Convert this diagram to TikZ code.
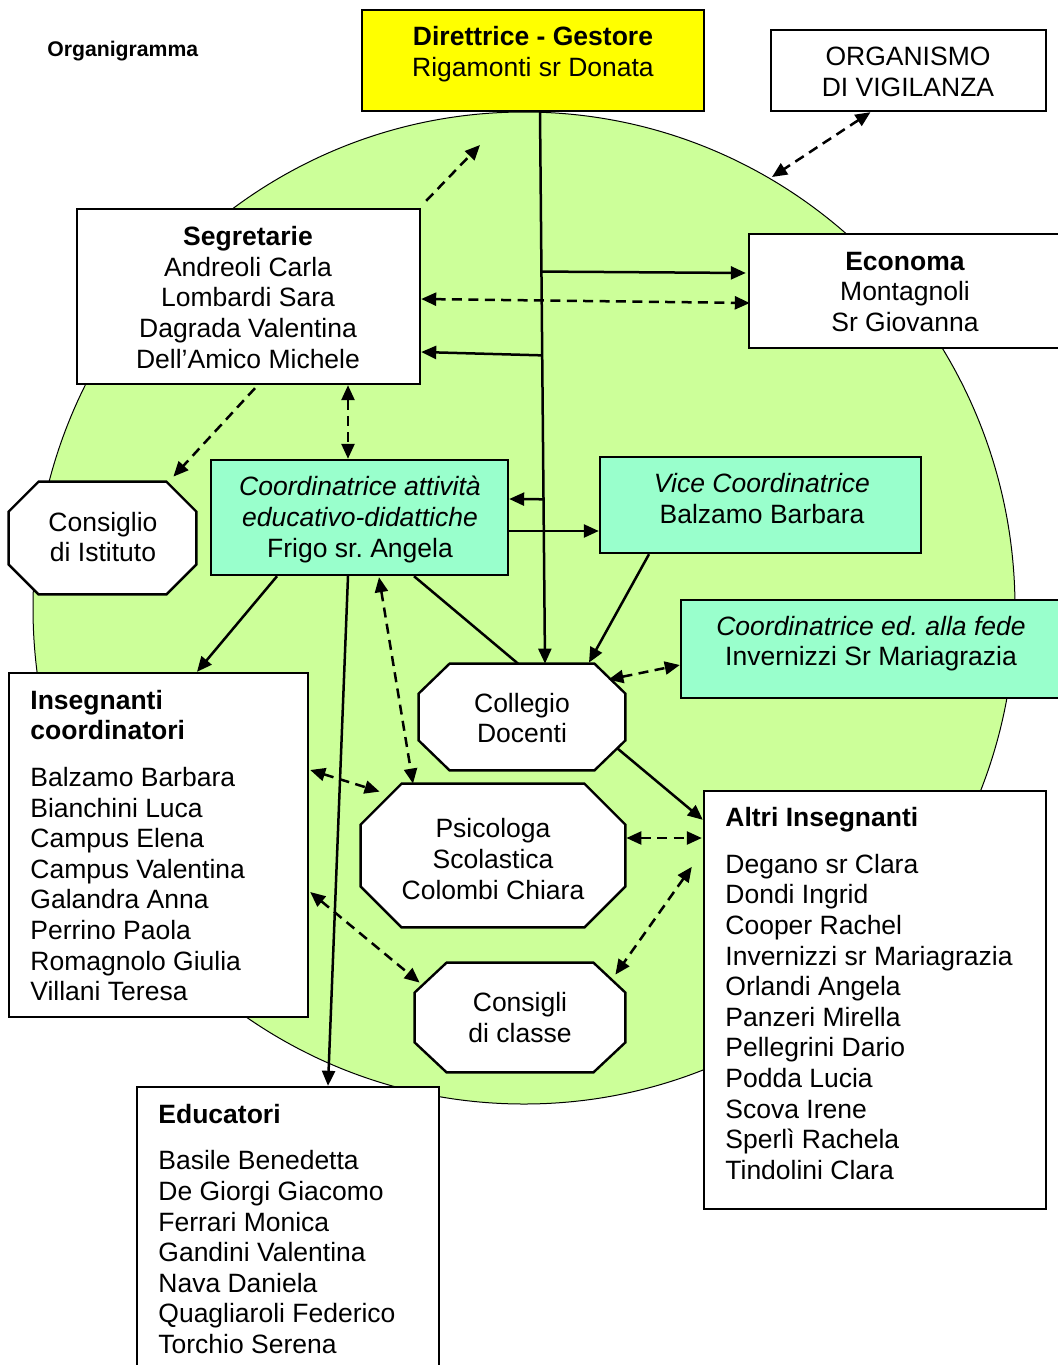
\documentclass[tikz,border=0pt]{standalone}
\usepackage{fontspec}
\setmainfont{Liberation Sans}
\usetikzlibrary{arrows.meta,calc,fit}
\definecolor{cgreen}{HTML}{CCFF99}
\definecolor{caqua}{HTML}{99FFCC}
\definecolor{cyellow}{HTML}{FFFF00}
\frenchspacing
\newcommand\myoct[3]{\draw[line width=1.2pt,fill=white] ($(#1.north west)+(#2,0)$) -- ($(#1.north east)+(-#2,0)$) -- ($(#1.north east)+(0,#3)$) -- ($(#1.south east)+(0,-#3)$) -- ($(#1.south east)+(-#2,0)$) -- ($(#1.south west)+(#2,0)$) -- ($(#1.south west)+(0,-#3)$) -- ($(#1.north west)+(0,#3)$) -- cycle;}
\begin{document}
\begin{tikzpicture}[x=0.5pt,y=-0.5pt,
  box/.style={draw,line width=1.2pt,inner sep=0pt},
  frame/.style={inner sep=0pt},
  txt/.style={font=\fontsize{13.25}{15.3}\selectfont,align=center,inner sep=0pt},
  tip/.tip={Triangle[length=7.5pt,width=6.5pt]},
  ln/.style={line width=1.25pt},
  ar/.style={line width=1.25pt,-tip},
  dsa/.style={line width=1.25pt,dash pattern=on 5pt off 3.2pt,-tip},
  dar/.style={line width=1.25pt,dash pattern=on 5pt off 3.2pt,tip-tip}]
\useasboundingbox (0,0) rectangle (1058,1365);
\clip (0,0) rectangle (1058,1365);
\fill[white] (0,0) rectangle (1058,1365);
% big circle
\draw[fill=cgreen,line width=0.5pt] (524,608) ellipse [x radius=491, y radius=496];
% rectangular boxes
\node[box,fill=cyellow,fit={(362,10)(704,111)}] (dir) {};
\node[box,fill=white,fit={(771,30)(1046,111)}] (org) {};
\node[box,fill=white,fit={(77,209)(420,384)}] (seg) {};
\node[box,fill=white,fit={(749,234)(1075,348)}] (eco) {};
\node[box,fill=caqua,fit={(211,460)(508,575)}] (coord) {};
\node[box,fill=caqua,fit={(600,457)(921,553)}] (vice) {};
\node[box,fill=caqua,fit={(681,600)(1075,698)}] (fede) {};
\node[box,fill=white,fit={(9,673)(308,1017)}] (ins) {};
\node[box,fill=white,fit={(704,791)(1046,1209)}] (altri) {};
\node[box,fill=white,fit={(137,1087)(439,1385)}] (edu) {};
% octagons
\node[frame,fit={(9,482)(196,594)}] (cons) {};
\myoct{cons}{30}{30}
\node[frame,fit={(419,664)(625,770)}] (coll) {};
\myoct{coll}{31}{30}
\node[frame,fit={(361,784)(625,927)}] (psi) {};
\myoct{psi}{41}{41}
\node[frame,fit={(415,963)(625,1072)}] (clas) {};
\myoct{clas}{32}{30}
% texts
\node[anchor=west,inner sep=0pt,font=\fontsize{10.6}{12}\selectfont\bfseries] (title) at (47,51) {Organigramma};
\node[txt] (dirt) at (533,54) {\textbf{Direttrice - Gestore}\\Rigamonti sr Donata};
\node[txt] (orgt) at (908,72) {ORGANISMO\\DI VIGILANZA};
\node[txt] (segt) at (248,297.5) {\textbf{Segretarie}\\Andreoli Carla\\Lombardi Sara\\Dagrada Valentina\\Dell’Amico Michele};
\node[txt] (ecot) at (905,292) {\textbf{Economa}\\Montagnoli\\Sr Giovanna};
\node[txt] (const) at (103,537) {Consiglio\\di Istituto};
\node[txt] (coordt) at (360,519.5) {\textit{Coordinatrice attività}\\\textit{educativo-didattiche}\\Frigo sr. Angela};
\node[txt] (vicet) at (762,498.5) {\textit{Vice Coordinatrice}\\Balzamo Barbara};
\node[txt] (fedet) at (871,643.5) {\textit{Coordinatrice ed. alla fede}\\Invernizzi Sr Mariagrazia};
\node[txt] (collt) at (522,718) {Collegio\\Docenti};
\node[txt] (psit) at (493,859) {Psicologa\\Scolastica\\Colombi Chiara};
\node[txt] (clast) at (520,1017.5) {Consigli\\di classe};
\node[txt,align=left,anchor=west] (inst) at (30,845.5) {\textbf{Insegnanti}\\\textbf{coordinatori}\\[8pt]Balzamo Barbara\\Bianchini Luca\\Campus Elena\\Campus Valentina\\Galandra Anna\\Perrino Paola\\Romagnolo Giulia\\Villani Teresa};
\node[txt,align=left,anchor=west] (altrit) at (725,993.5) {\textbf{Altri Insegnanti}\\[8pt]Degano sr Clara\\Dondi Ingrid\\Cooper Rachel\\Invernizzi sr Mariagrazia\\Orlandi Angela\\Panzeri Mirella\\Pellegrini Dario\\Podda Lucia\\Scova Irene\\Sperlì Rachela\\Tindolini Clara};
\node[txt,align=left,anchor=west] (edut) at (158,1229) {\textbf{Educatori}\\[8pt]Basile Benedetta\\De Giorgi Giacomo\\Ferrari Monica\\Gandini Valentina\\Nava Daniela\\Quagliaroli Federico\\Torchio Serena};
% connectors
\coordinate (vtop) at ($(dir.south)+(7,0)$);
\coordinate (vbot) at ($(coll.north)+(23,0)$);
\draw[ar] (vtop) -- (vbot);
\draw[ar] ($(vtop)!0.289!(vbot)$) -- ($(eco.west)+(-2,-18)$);
\draw[dar] ($(seg.east)+(0,2.5)$) -- ($(eco.west)+(2,12)$);
\draw[ar] ($(vtop)!0.441!(vbot)$) -- ($(seg.east)+(0,55.5)$);
\coordinate (sfree) at (480,145);
\draw[dsa] ($(seg.north east)+(5,-7)$) -- (sfree);
\coordinate (ofree) at (772,177);
\draw[dar] ($(org.south)+(-38,0)$) -- (ofree);
\draw[dar] ($(seg.south)+(99.5,0)$) -- ($(coord.north)+(-11.5,0)$);
\draw[dsa] ($(seg.south)+(6.5,3)$) -- ($(cons.north east)+(-23,-5)$);
\draw[ar] ($(vtop)!0.702!(vbot)$) -- ($(coord.east)+(0,-18.5)$);
\draw[ar] ($(coord.east)+(0,13.5)$) -- ($(vice.west)+(0,26)$);
\draw[ar] ($(vice.south)+(-111.5,0)$) -- ($(coll.north)+(67,-1)$);
\draw[dar] ($(coll.north east)+(-17,16)$) -- ($(fede.west)+(0,16)$);
\draw[ln] ($(coord.south)+(54.5,0)$) -- ($(coll.north)+(-4,0)$);
\draw[ar] ($(coord.south)+(-82.5,0)$) -- ($(ins.north)+(38.5,0)$);
\draw[ar] ($(coord.south)+(-11.5,0)$) -- ($(edu.north)+(40,0)$);
\draw[dar] ($(coord.south)+(19.5,1)$) -- ($(psi.north)+(-80,0)$);
\draw[dar] ($(ins.east)+(1,-75)$) -- ($(psi.north west)+(19,8)$);
\draw[dar] ($(ins.east)+(1,47)$) -- ($(clas.north west)+(5,20)$);
\draw[ar] ($(coll.south east)+(-8,-22)$) -- ($(altri.north west)+(0,30)$);
\draw[dar] ($(psi.east)+(1,-17.5)$) -- ($(altri.west)+(-1,-162)$);
\draw[dar] ($(altri.north west)+(-11,77)$) -- ($(clas.north east)+(-10,12)$);
\end{tikzpicture}
\end{document}
